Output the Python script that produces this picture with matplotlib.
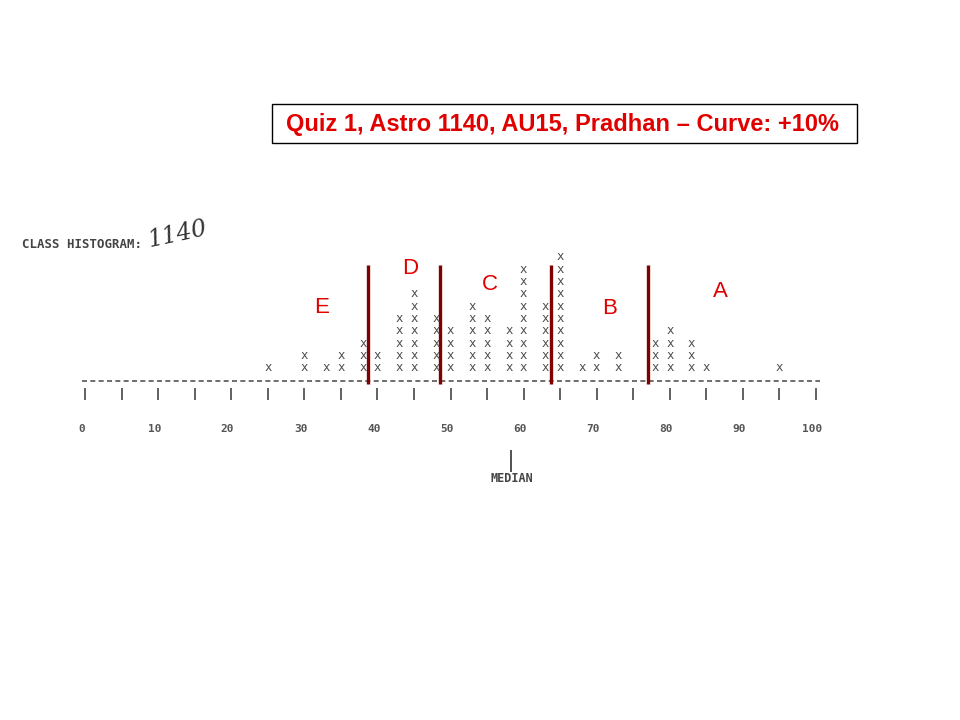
import numpy as np
import matplotlib
matplotlib.use('Agg')
import matplotlib.pyplot as plt
from matplotlib.patches import Rectangle

# typewriter histogram
scores = [25, 30, 33, 35, 38, 40, 43, 45, 48, 50, 53, 55, 58, 60, 63, 65, 68, 70, 73, 78, 80, 83, 85, 95]
counts = [1, 2, 1, 2, 3, 2, 5, 7, 5, 4, 6, 5, 4, 9, 6, 10, 1, 2, 2, 3, 4, 3, 1, 1]
tick_scores = list(range(0, 101, 5))
label_scores = list(range(0, 101, 10))
median = 58.3

# grade cut lines drawn on top of the scan
cuts = [38.7, 48.6, 63.8, 77.0]
grades = ['E', 'D', 'C', 'B', 'A']
grade_x = [32.4, 44.5, 55.4, 71.8, 86.9]
grade_y = [5.87, 9.1, 7.8, 5.8, 7.2]

title = 'Quiz 1, Astro 1140, AU15, Pradhan \u2013 Curve: +10%'

fig = plt.figure(figsize=(9.6, 7.2), dpi=100)
ax = fig.add_axes([0, 0, 1, 1])
# 1 score unit = 7.31 px, 1 row = 12.33 px
ax.set_xlim(-11.63, 119.70)
ax.set_ylim(-27.55, 30.84)
ax.axis('off')

mono = 'DejaVu Sans Mono'
grey = '#555555'

# X columns, one typed "x" per student
for s, c in zip(scores, counts):
    for k in range(1, c + 1):
        ax.text(s, k - 0.28, 'x', family=mono, fontsize=8.8, color='#4a4a4a',
                ha='center', va='baseline')

# dashed baseline
ax.plot([-0.4, 100.5], [-0.05, -0.05], color='#555555', lw=1.2,
        dashes=(3.0, 2.0))

# tick bars and labels
ax.vlines(tick_scores, -1.6, -0.62, color=grey, lw=1.3)
for s in label_scores:
    ax.text(s - 0.5, -3.96, str(s), family=mono, fontsize=8, color=grey,
            fontweight='bold', ha='center', va='center')

# median marker
ax.vlines([median], -7.43, -5.65, color='#333333', lw=1.2)
ax.text(median + 0.1, -8.0, 'MEDIAN', family=mono, fontsize=8.5, color='#444444',
        fontweight='bold', ha='center', va='center')

# header of the scanned page
fig.text(22 / 960, 1 - 245 / 720, 'CLASS HISTOGRAM:', family=mono, fontsize=8.9,
         color='#444444', fontweight='bold', ha='left', va='center')
fig.text(146 / 960, 1 - 234 / 720, '1140', family='DejaVu Serif', style='italic',
         fontsize=17, color='#333333', rotation=12, ha='left', va='center')

# grade boundaries
ax.vlines(cuts, -0.3, 9.35, color='#800000', lw=2.4)
for g, gx, gy in zip(grades, grade_x, grade_y):
    ax.text(gx, gy, g, family='Liberation Sans', fontsize=16, color='#e00000',
            ha='center', va='center')

# title box
fig.patches.append(Rectangle((272 / 960, 1 - 143 / 720), 585 / 960, 39 / 720,
                             transform=fig.transFigure, fill=False,
                             edgecolor='black', lw=1))
fig.text(563 / 960, 1 - 124 / 720, title, family='Liberation Sans',
         fontweight='bold', fontsize=17, color='#e00000', ha='center', va='center')

fig.savefig('out.png', dpi=100, facecolor='white')
